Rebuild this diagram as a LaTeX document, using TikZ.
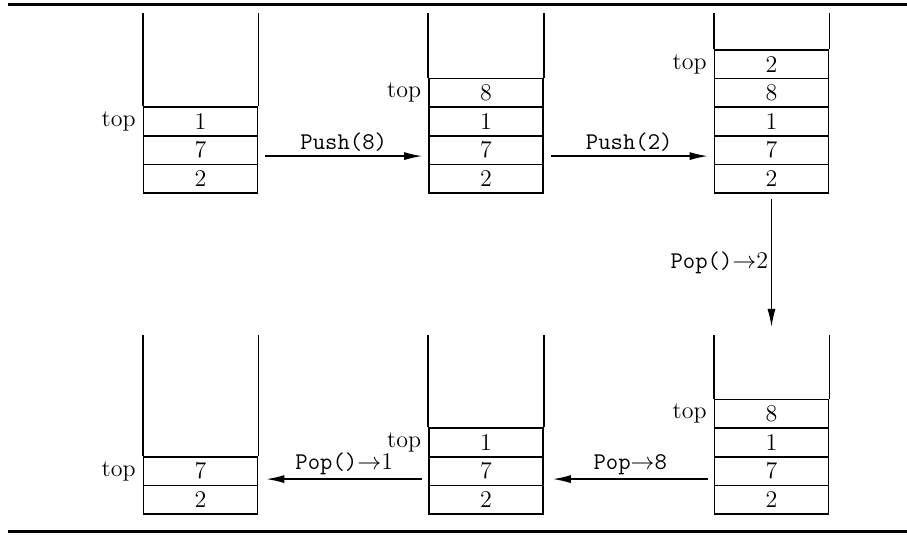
\documentclass[tikz,border=0pt]{standalone}
\usepackage{amsmath}
\usetikzlibrary{positioning}
\usetikzlibrary{arrows.meta}
\tikzset{>={Latex[length=9pt,width=4pt]}}
\tikzset{
	every node/.style={font=\large},
	cell/.style={draw,line width=.8pt,minimum width=57pt,minimum height=14.3pt,inner sep=0pt},
	wall/.style={line width=.8pt},
	rule/.style={line width=1.5pt},
	move/.style={->,line width=.7pt},
	toplabel/.style={left=0pt of #1},
	oplabel/.style={midway,above=-1.5pt}
}

\begin{document}
\begin{tikzpicture}[x=.5pt,y=.5pt]
		\useasboundingbox (0,0) rectangle (907,535);
		\draw[rule] (8,530.5) -- (907,530.5);
		\draw[rule] (8,3) -- (907,3);
		\coordinate (upper) at (0,522.3);
		\coordinate (lower) at (0,200);
		% upper row of stacks
		\foreach \v [count=\i] in {2,7,1} \node[cell] (a\i) at (200.5,{342+28.6*(\i-.5)}) {\v};
		\foreach \v [count=\i] in {2,7,1,8} \node[cell] (b\i) at (486,{342+28.6*(\i-.5)}) {\v};
		\foreach \v [count=\i] in {2,7,1,8,2} \node[cell] (c\i) at (771.5,{342+28.6*(\i-.5)}) {\v};
		% lower row of stacks
		\foreach \v [count=\i] in {2,7} \node[cell] (d\i) at (200.5,{21+28.6*(\i-.5)}) {\v};
		\foreach \v [count=\i] in {2,7,1} \node[cell] (e\i) at (486,{21+28.6*(\i-.5)}) {\v};
		\foreach \v [count=\i] in {2,7,1,8} \node[cell] (f\i) at (771.5,{21+28.6*(\i-.5)}) {\v};
		% open sides
		\foreach \s in {a3,b4,c5}
			\draw[wall] (\s.north west) -- (\s.north west |- upper) (\s.north east) -- (\s.north east |- upper);
		\foreach \s in {d2,e3,f4}
			\draw[wall] (\s.north west) -- (\s.north west |- lower) (\s.north east) -- (\s.north east |- lower);
		% top markers
		\node[toplabel=a3] (ta) {top};
		\node[toplabel=b4] (tb) {top};
		\node[toplabel=c5] (tc) {top};
		\node[toplabel=d2] (td) {top};
		\node[toplabel=e3] (te) {top};
		\node[toplabel=f4] (tf) {top};
		% operations
		\draw[move] ([xshift=3.5pt,yshift=-3pt]a2.east) -- ([xshift=-3pt,yshift=-3pt]b2.west)
			node[oplabel] {\texttt{Push(8)}};
		\draw[move] ([xshift=3.5pt,yshift=-3pt]b2.east) -- ([xshift=-3pt,yshift=-3pt]c2.west)
			node[oplabel] {\texttt{Push(2)}};
		\coordinate (fin) at (771.5,208);
		\draw[move] ([yshift=-2.5pt]c1.south) -- (fin)
			node[midway,left=-2pt] {\texttt{Pop()}$\rightarrow$2};
		\draw[move] ([xshift=-3pt,yshift=-4pt]f2.west) -- ([xshift=4.5pt,yshift=-4pt]e2.east)
			node[oplabel] {\texttt{Pop}$\rightarrow$\texttt{8}};
		\draw[move] ([xshift=-3pt,yshift=-4pt]e2.west) -- ([xshift=4pt,yshift=-4pt]d2.east)
			node[oplabel] {\texttt{Pop()}$\rightarrow$1};
	\end{tikzpicture}
\end{document}
